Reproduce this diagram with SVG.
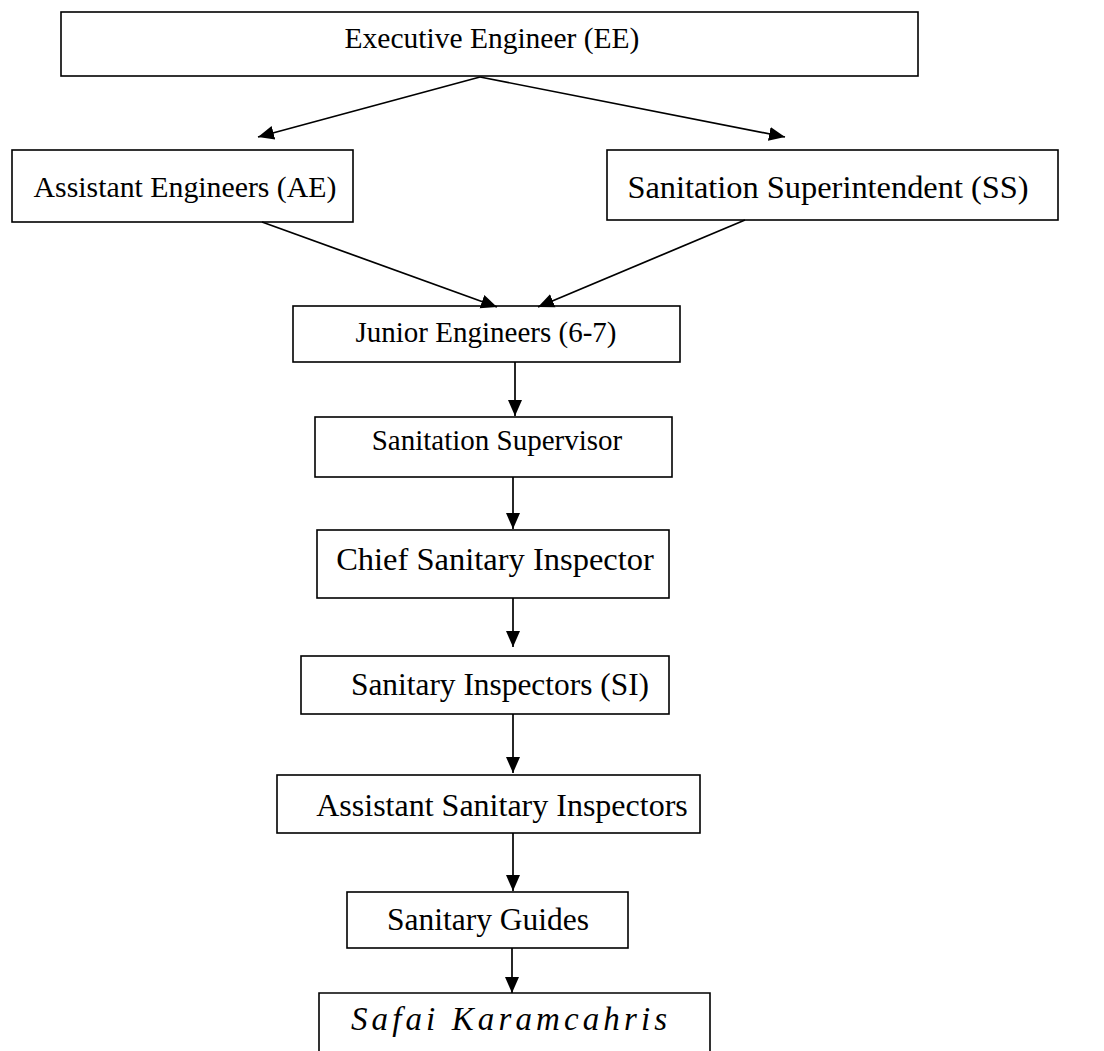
<svg xmlns="http://www.w3.org/2000/svg" width="1104" height="1051" viewBox="0 0 1104 1051">
<defs>
<marker id="ah" markerUnits="userSpaceOnUse" markerWidth="16" markerHeight="16" viewBox="0 0 16 16" refX="16" refY="8" orient="auto">
<path d="M0,1 L16,8 L0,15 z" fill="#000"/>
</marker>
<style>
.box{fill:#fff;stroke:#000;stroke-width:1.6}
.t{font-family:"Liberation Serif","Times New Roman",serif;fill:#000;text-anchor:middle}
.c{stroke:#000;stroke-width:1.7;fill:none;marker-end:url(#ah)}
</style>
</defs>
<rect width="1104" height="1051" fill="#fff"/>
<g id="ee"><rect class="box" x="61" y="12" width="857" height="64"/><text class="t" x="492" y="48" font-size="29.5">Executive Engineer (EE)</text></g>
<g id="ae"><rect class="box" x="12" y="150" width="341" height="72"/><text class="t" x="185" y="197" font-size="29.8">Assistant Engineers (AE)</text></g>
<g id="ss"><rect class="box" x="607" y="150" width="451" height="70"/><text class="t" x="828" y="198" font-size="32.4">Sanitation Superintendent (SS)</text></g>
<g id="je"><rect class="box" x="293" y="306" width="387" height="56"/><text class="t" x="486" y="342" font-size="29">Junior Engineers (6-7)</text></g>
<g id="ssup"><rect class="box" x="315" y="417" width="357" height="60"/><text class="t" x="497" y="450" font-size="29">Sanitation Supervisor</text></g>
<g id="csi"><rect class="box" x="317" y="530" width="352" height="68"/><text class="t" x="495" y="570" font-size="32.5">Chief Sanitary Inspector</text></g>
<g id="si"><rect class="box" x="301" y="656" width="368" height="58"/><text class="t" x="500" y="695" font-size="31.4">Sanitary Inspectors (SI)</text></g>
<g id="asi"><rect class="box" x="277" y="775" width="423" height="58"/><text class="t" x="502" y="816" font-size="32">Assistant Sanitary Inspectors</text></g>
<g id="sg"><rect class="box" x="347" y="892" width="281" height="56"/><text class="t" x="488" y="930" font-size="31.5">Sanitary Guides</text></g>
<g id="sk"><path class="box" d="M319,1053 V993 H710 V1053"/><text class="t" x="509" y="1030" font-size="33" font-style="italic" textLength="316" lengthAdjust="spacing">Safai Karamcahris</text></g>
<g id="connectors">
<line class="c" x1="480" y1="77" x2="258" y2="137"/>
<line class="c" x1="480" y1="77" x2="785" y2="137"/>
<line class="c" x1="262" y1="222" x2="497" y2="307"/>
<line class="c" x1="745" y1="220" x2="538" y2="307"/>
<line class="c" x1="515" y1="362" x2="515" y2="416"/>
<line class="c" x1="513" y1="477" x2="513" y2="529"/>
<line class="c" x1="513" y1="598" x2="513" y2="647"/>
<line class="c" x1="513" y1="714" x2="513" y2="773"/>
<line class="c" x1="513" y1="833" x2="513" y2="891"/>
<line class="c" x1="512" y1="948" x2="512" y2="993"/>
</g>
</svg>
